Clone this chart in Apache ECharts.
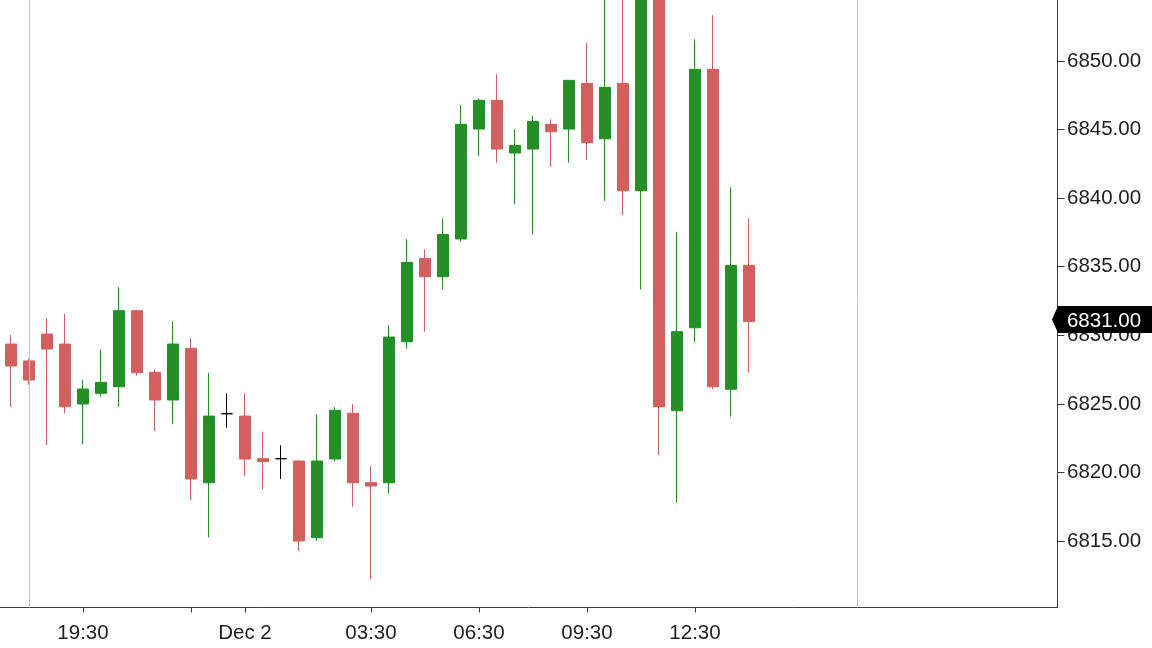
<!DOCTYPE html>
<html>
<head>
<meta charset="utf-8">
<script src="https://cdn.jsdelivr.net/npm/echarts@6/dist/echarts.min.js"></script>
<style>
  html, body { margin: 0; padding: 0; background: #ffffff; }
  #chart { width: 1152px; height: 648px; }
</style>
</head>
<body>
<div id="chart"></div>
<script>
// 30-minute candles, starting Dec 1 17:30
const times  = ['17:30','18:00','18:30','19:00','19:30','20:00','20:30','21:00','21:30','22:00',
                '22:30','23:00','23:30','00:00','00:30','01:00','01:30','02:00','02:30','03:00',
                '03:30','04:00','04:30','05:00','05:30','06:00','06:30','07:00','07:30','08:00',
                '08:30','09:00','09:30','10:00','10:30','11:00','11:30','12:00','12:30','13:00',
                '13:30','14:00'];
const opens  = [6829.36,6828.13,6830.09,6829.36,6824.99,6825.77,6826.25,6831.79,6827.30,6825.28,
                6829.05,6819.25,6824.28,6824.11,6821.00,6821.00,6820.83,6815.24,6820.98,6824.31,
                6819.25,6819.25,6829.53,6835.61,6834.27,6837.02,6845.04,6847.13,6843.29,6843.58,
                6845.38,6845.04,6848.37,6844.33,6848.37,6840.54,6858.00,6824.50,6830.55,6849.39,
                6826.06,6835.10];
const closes = [6827.76,6826.74,6829.00,6824.79,6826.08,6826.57,6831.79,6827.27,6825.28,6829.36,
                6819.52,6824.11,6824.28,6820.98,6820.78,6821.00,6815.00,6820.83,6824.53,6819.25,
                6819.01,6829.87,6835.32,6834.27,6837.36,6845.38,6847.13,6843.58,6843.85,6845.60,
                6844.84,6848.59,6844.04,6848.08,6840.54,6858.00,6824.79,6830.26,6849.39,6826.25,
                6835.10,6831.00];
const lows   = [6824.79,6826.40,6822.00,6824.31,6822.05,6825.52,6824.79,6827.05,6823.02,6823.53,
                6817.99,6815.27,6823.26,6819.76,6818.77,6819.52,6814.27,6815.00,6820.78,6817.50,
                6812.23,6818.48,6829.02,6830.26,6833.35,6836.82,6843.07,6842.58,6839.57,6837.36,
                6842.29,6842.58,6842.78,6839.81,6838.77,6833.35,6821.27,6817.79,6829.53,6826.06,
                6824.06,6827.27];
const highs  = [6830.02,6828.30,6831.24,6831.55,6826.74,6828.98,6833.50,6831.85,6827.52,6831.02,
                6829.78,6827.25,6825.77,6825.77,6822.97,6821.98,6820.90,6824.24,6824.75,6824.99,
                6820.45,6830.75,6837.00,6836.27,6838.53,6846.79,6847.28,6849.03,6845.02,6846.01,
                6845.75,6848.60,6851.29,6856.00,6857.00,6860.00,6861.00,6837.51,6851.58,6853.35,
                6840.79,6838.53];

// x-axis ticks (day of month, time) and their labels ('' = tick only)
const xTickDays   = [1, 1, 1, 2, 2, 2, 2, 2];
const xTickTimes  = ['16:30','19:30','22:30','00:00','03:30','06:30','09:30','12:30'];
const xTickLabels = ['16:30','19:30','','Dec 2','03:30','06:30','09:30','12:30'];
// session separator lines
const sessionDays  = [1, 2];
const sessionTimes = ['18:00','17:00'];
// y-axis tick labels
const yTicks = [6815, 6820, 6825, 6830, 6835, 6840, 6845, 6850];

const START_DAY = 1, START_MIN = 17 * 60 + 30, SLOT = 30;
function slotOf(day, hhmm) {
  const [h, m] = hhmm.split(':').map(Number);
  return ((day - START_DAY) * 1440 + h * 60 + m - START_MIN) / SLOT;
}

const candleData = times.map((t, i) => [i, opens[i], closes[i], lows[i], highs[i]]);
const xTickVals = xTickTimes.map((t, i) => slotOf(xTickDays[i], t));
const xLabelVals = xTickVals.filter((v, i) => xTickLabels[i] !== '');
const sessionVals = sessionTimes.map((t, i) => slotOf(sessionDays[i], t));
const lastClose = closes[closes.length - 1];

const X_MIN = -2.611, X_MAX = 58.139;
const Y_MIN = 6810.15, Y_MAX = 6854.448;
const FONT = "'Liberation Sans', Arial, sans-serif";
const GREEN = '#238f26', RED = '#d45f5f';

const chart = echarts.init(document.getElementById('chart'), null, { renderer: 'canvas' });
chart.setOption({
  animation: false,
  backgroundColor: '#ffffff',
  grid: { left: -36, right: 94.5, top: 0, bottom: 40.5, containLabel: false, outerBoundsMode: 'none' },
  xAxis: {
    type: 'value',
    min: X_MIN, max: X_MAX,
    splitLine: { show: false },
    axisLine: { show: true, onZero: false, lineStyle: { color: '#3c3c3c', width: 1 } },
    axisTick: { show: true, length: 5, customValues: xTickVals, lineStyle: { color: '#3c3c3c' } },
    axisLabel: {
      show: true, customValues: xLabelVals, margin: 15,
      color: '#1e1e1e', fontSize: 20.5, fontFamily: FONT,
      formatter: function (v) {
        const k = xTickVals.findIndex(x => Math.abs(x - v) < 1e-6);
        return k >= 0 ? xTickLabels[k] : '';
      }
    }
  },
  yAxis: {
    type: 'value',
    position: 'right',
    min: Y_MIN, max: Y_MAX,
    scale: true,
    splitLine: { show: false },
    axisLine: { show: true, onZero: false, lineStyle: { color: '#3c3c3c', width: 1 } },
    axisTick: { show: true, length: 7, customValues: yTicks, lineStyle: { color: '#3c3c3c' } },
    axisLabel: {
      show: true, customValues: yTicks, margin: 9.5, padding: [4, 0, 0, 0],
      color: '#1e1e1e', fontSize: 20.5, fontFamily: FONT,
      formatter: v => Number(v).toFixed(2)
    }
  },
  series: [{
    type: 'candlestick',
    data: candleData,
    encode: { x: 0, y: [1, 2, 3, 4] },
    barWidth: 12,
    clip: true,
    itemStyle: {
      color: GREEN, color0: RED,
      borderColor: GREEN, borderColor0: RED,
      borderColorDoji: '#000000',
      borderWidth: 1
    },
    emphasis: { disabled: true },
    markLine: {
      silent: true,
      symbol: ['none', 'none'],
      label: { show: false },
      lineStyle: { color: '#c4c4c4', width: 1, type: 'solid' },
      data: sessionVals.map(v => ({ xAxis: v }))
    },
    markPoint: {
      silent: true,
      data: [{
        coord: [X_MAX, lastClose],
        symbol: 'path://M0,13.5L6,0L100,0L100,27L6,27Z',
        symbolSize: [100, 27],
        symbolKeepAspect: false,
        symbolOffset: [44.5, -2],
        itemStyle: { color: '#000000' },
        label: {
          show: true, position: 'inside', offset: [2, 2],
          formatter: lastClose.toFixed(2),
          color: '#ffffff', fontSize: 20.5, fontFamily: FONT
        }
      }]
    }
  }]
});
</script>
</body>
</html>
